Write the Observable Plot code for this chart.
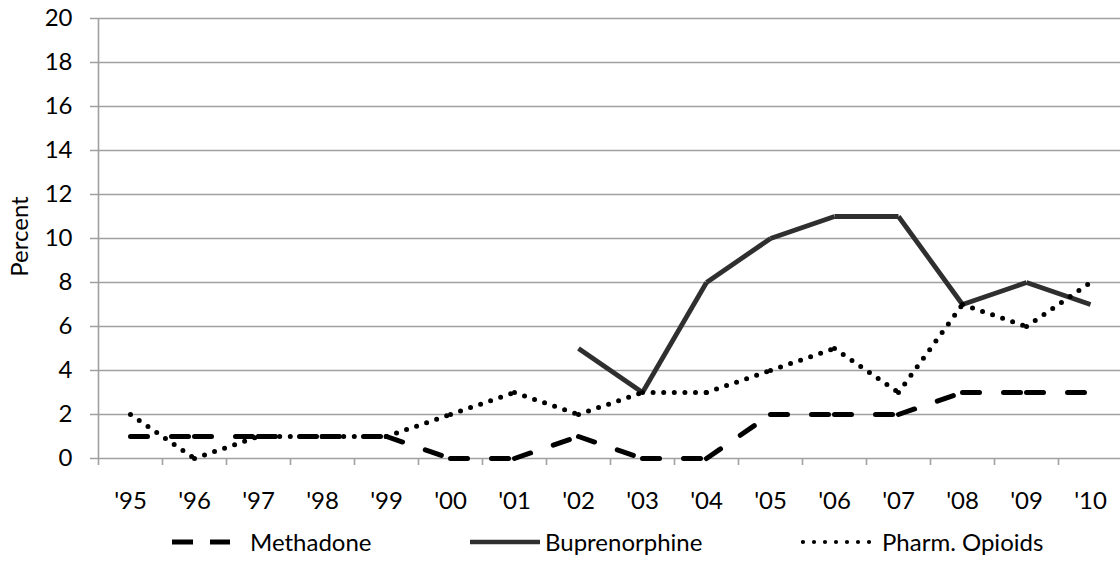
<!DOCTYPE html>
<html>
<head>
<meta charset="utf-8">
<script src="https://cdn.jsdelivr.net/npm/d3@7"></script>
<script src="https://cdn.jsdelivr.net/npm/@observablehq/plot@0.6"></script>
<style>
  html, body { margin: 0; padding: 0; background: #fff; }
  body { width: 1120px; height: 563px; overflow: hidden; font-family: Lato, "Open Sans", sans-serif; }
  #legend { position: relative; width: 1120px; height: 43px; font-size: 24px; color: #000; }
  #legend .item { position: absolute; top: 0; height: 43px; display: flex; align-items: center; }
  #legend svg { display: block; }
</style>
</head>
<body>
<div id="chart"></div>
<div id="legend"></div>
<script>
// ---- data ----
const years = ["'95","'96","'97","'98","'99","'00","'01","'02","'03","'04","'05","'06","'07","'08","'09","'10"];
const methadone     = [1, 1, 1, 1, 1, 0, 0, 1, 0, 0, 2, 2, 2, 3, 3, 3];
const buprenorphine = [null, null, null, null, null, null, null, 5, 3, 8, 10, 11, 11, 7, 8, 7];
const pharmOpioids  = [2, 0, 1, 1, 1, 2, 3, 2, 3, 3, 4, 5, 3, 7, 6, 8];
const yTicks = [0, 2, 4, 6, 8, 10, 12, 14, 16, 18, 20];
const seriesNames = ["Methadone", "Buprenorphine", "Pharm. Opioids"];
const yTitle = "Percent";

// consecutive segments (pattern restarts at each point, as in the original)
function segments(values) {
  const out = [];
  for (let i = 0; i < values.length - 1; i++) {
    if (values[i] != null && values[i + 1] != null) {
      out.push({x1: i, y1: values[i], x2: i + 1, y2: values[i + 1]});
    }
  }
  return out;
}

const grid = "#a0a0a0";
const idx = years.map((_, i) => i);
const bounds = years.map((_, i) => i - 0.5).concat([years.length - 0.5]);
const FS = 24;

const chart = Plot.plot({
  width: 1120,
  height: 520,
  marginTop: 18,
  marginBottom: 62,
  marginLeft: 98,
  marginRight: -2,
  style: {fontFamily: "Lato, 'Open Sans', sans-serif", fontSize: FS + "px", color: "#000", background: "#fff", overflow: "hidden"},
  x: {domain: [-0.5, years.length - 0.5], axis: null},
  y: {domain: [0, 20], axis: null},
  marks: [
    Plot.ruleY(yTicks, {stroke: grid, strokeWidth: 1.6, insetLeft: -8}),
    Plot.ruleX([-0.5], {stroke: grid, strokeWidth: 1.6}),
    Plot.ruleX(bounds, {y1: 0, y2: 0, insetBottom: -7, stroke: grid, strokeWidth: 1.6}),
    Plot.axisY({ticks: yTicks, tickSize: 0, tickPadding: 26, fontSize: FS, label: null}),
    Plot.axisX({ticks: idx, tickSize: 0, tickPadding: 33, fontSize: FS, label: null, tickFormat: i => years[i]}),
    Plot.text([yTitle], {frameAnchor: "left", textAnchor: "middle", lineAnchor: "middle", rotate: -90, dx: -78, dy: -2, fontSize: FS, fill: "#000"}),
    Plot.link(segments(methadone), {x1: "x1", y1: "y1", x2: "x2", y2: "y2", stroke: "#000", strokeWidth: 5, strokeDasharray: "17,24", strokeLinecap: "round"}),
    Plot.link(segments(buprenorphine), {x1: "x1", y1: "y1", x2: "x2", y2: "y2", stroke: "#2f2f2f", strokeWidth: 4.8, strokeLinecap: "butt"}),
    Plot.link(segments(pharmOpioids), {x1: "x1", y1: "y1", x2: "x2", y2: "y2", stroke: "#000", strokeWidth: 5, strokeDasharray: "0,10.6", strokeLinecap: "round"})
  ]
});
document.getElementById("chart").appendChild(chart);

// ---- legend ----
const legendSpec = [
  {name: seriesNames[0], left: 172, sw: 58, stroke: "#000", width: 5, dash: "21,17", cap: "butt", gap: 18},
  {name: seriesNames[1], left: 470, sw: 70, stroke: "#2f2f2f", width: 4.5, dash: null, cap: "butt", gap: 3},
  {name: seriesNames[2], left: 803, sw: 68, stroke: "#000", width: 4.2, dash: "0,11", cap: "round", gap: 9}
];
const legend = document.getElementById("legend");
const ns = "http://www.w3.org/2000/svg";
legendSpec.forEach(s => {
  const item = document.createElement("div");
  item.className = "item";
  item.style.left = (s.left - 2) + "px";
  const svg = document.createElementNS(ns, "svg");
  svg.setAttribute("width", s.sw + 4);
  svg.setAttribute("height", 10);
  const ln = document.createElementNS(ns, "line");
  ln.setAttribute("x1", 2); ln.setAttribute("x2", s.sw + 2);
  ln.setAttribute("y1", 5); ln.setAttribute("y2", 5);
  ln.setAttribute("stroke", s.stroke);
  ln.setAttribute("stroke-width", s.width);
  ln.setAttribute("stroke-linecap", s.cap);
  if (s.dash) ln.setAttribute("stroke-dasharray", s.dash);
  svg.appendChild(ln);
  item.appendChild(svg);
  const t = document.createElement("span");
  t.textContent = s.name;
  t.style.marginLeft = s.gap + "px";
  item.appendChild(t);
  legend.appendChild(item);
});
</script>
</body>
</html>
